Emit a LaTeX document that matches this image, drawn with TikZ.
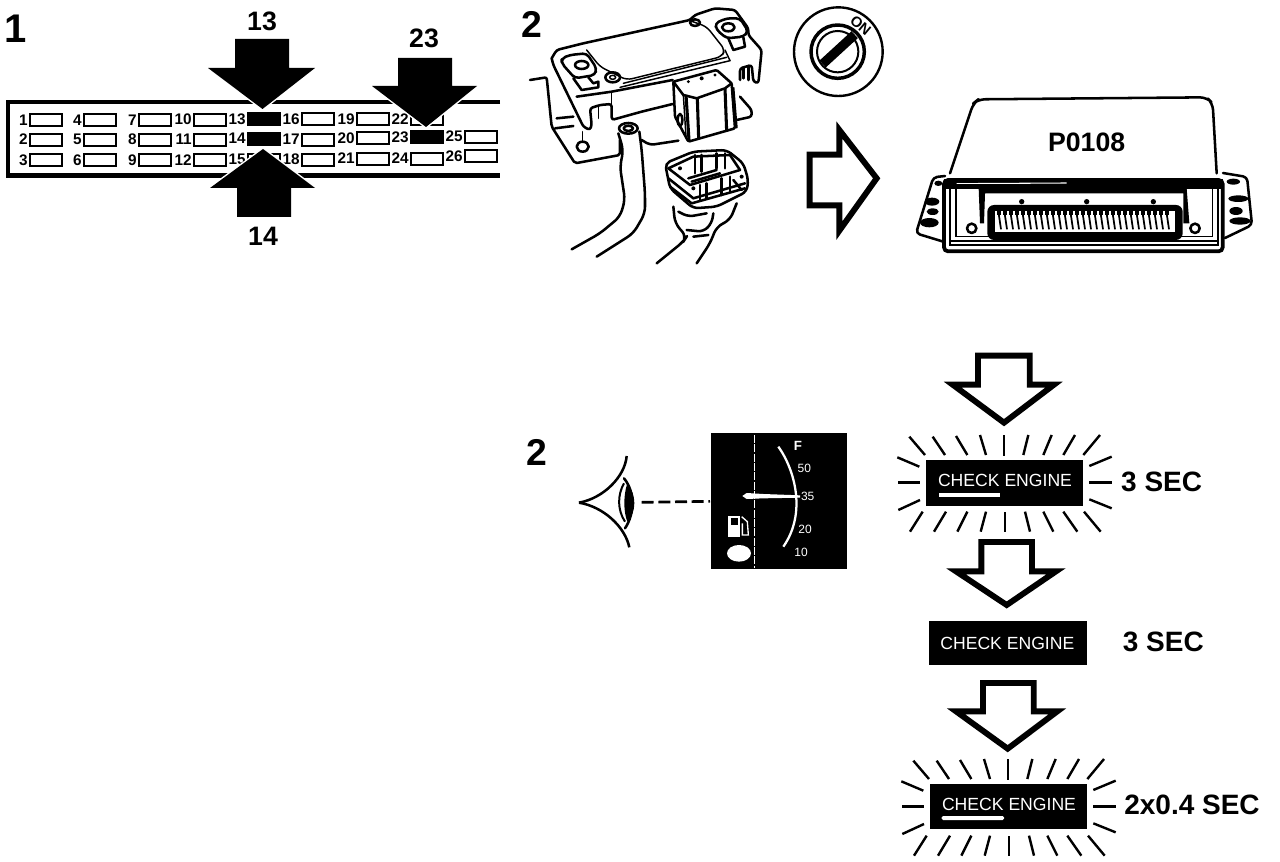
\documentclass[tikz,border=0pt]{standalone}
\usepackage{fontspec}
\setmainfont{Liberation Sans}
\tikzset{
  ln/.style={line width=1.9pt,line join=round,line cap=round},
  thn/.style={line width=1.1pt,line join=round,line cap=round},
  bigarrow/.style={fill=black,draw=white,line width=2.2pt,line join=miter},
  hollow/.style={draw=black,fill=white,line width=4.4pt,line join=miter},
  pinbox/.style={draw=black,line width=1.5pt,fill=white,minimum width=24pt,minimum height=9pt,inner sep=0pt,anchor=west},
  pinnum/.style={font=\fontsize{11.5}{12}\selectfont\bfseries,inner sep=0pt,anchor=east},
  biglabel/.style={font=\fontsize{20}{22}\selectfont\bfseries,inner sep=0pt},
  seclabel/.style={font=\fontsize{21}{23}\selectfont\bfseries,inner sep=0pt},
  panelnum/.style={font=\fontsize{30}{32}\selectfont\bfseries,inner sep=0pt},
  lamp/.style={fill=black,draw=none},
  lamptext/.style={text=white,font=\fontsize{13.2}{14}\selectfont,inner sep=0pt},
  ray/.style={line width=1.8pt,line cap=butt},
  gaugetext/.style={text=white,font=\fontsize{9}{10}\selectfont,inner sep=0pt},
}
\newcommand{\lamprays}{%
  \foreach \a/\b/\c/\d in {88/290/135/345,158/290/195/345,228/288/262/345,300/285/318/345,372/285/372/348,445/285/430/345,515/285/490/345,585/285/550/345,660/285/610/345,52/352/118/380,55/428/120/428,55/510/120/480,695/350/628/378,628/428/695/428,628/478/695/505,90/575/128/515,162/575/198/515,232/575/262/515,302/575/318/515,375/575/375/515,435/515/450/575,490/515/520/575,550/515/592/575,612/515/662/575}
    {\draw[ray] (\a,\b) -- (\c,\d);}%
}
\begin{document}
\begin{tikzpicture}[x=.75pt,y=-.75pt]
\useasboundingbox (0,0) rectangle (1280,862);
\fill[white] (0,0) rectangle (1280,862);

% ---------- Panel 1 ----------
\node[panelnum] (p1) at (16,29) {1};
\draw[line width=3.2pt,line join=miter] (500,102) -- (8,102) -- (8,175.5) -- (500,175.5);
\foreach \n/\x/\y in {1/29/120.5,2/29/140,3/29/160.5,4/83/120.5,5/83/140,6/83/160.5,7/138/120.5,8/138/140,9/138/160.5,10/193/120,11/193/140,12/193/160.5,16/301/119.5,17/301/140,18/301/160,19/356/119.5,20/356/138.5,21/356/159,22/410/119.5,24/410/159,25/464/137,26/464/156.5}{
  \node[pinbox] (b\n) at (\x,\y) {};
  \node[pinnum] (n\n) at (\x-1,\y-.5) {\n};
}
\foreach \n/\x/\y in {13/247/119.5,14/247/139,23/410/137.5}{
  \node[pinbox,fill=black] (b\n) at (\x,\y) {};
  \node[pinnum] (n\n) at (\x-1,\y-.5) {\n};
}
\node[pinbox] (b15) at (247,160) {};
\node[pinnum] (n15) at (246,159.5) {15};
\draw[bigarrow] (235,39) -- (289,39) -- (289,68) -- (315,68) -- (262.5,109) -- (208,68) -- (235,68) -- cycle;
\fill (235,39) -- (289,39) -- (289,68) -- (315,68) -- (262.5,109) -- (208,68) -- (235,68) -- cycle;
\draw[bigarrow] (398,58) -- (452,58) -- (452,86) -- (477,86) -- (426,127) -- (372,86) -- (398,86) -- cycle;
\fill (398,58) -- (452,58) -- (452,86) -- (477,86) -- (426,127) -- (372,86) -- (398,86) -- cycle;
\draw[bigarrow] (237,217) -- (291,217) -- (291,188) -- (315,188) -- (263,149) -- (210,188) -- (237,188) -- cycle;
\fill (237,217) -- (291,217) -- (291,188) -- (315,188) -- (263,149) -- (210,188) -- (237,188) -- cycle;
\node[biglabel] (l13) at (262,21) {13};
\node[biglabel] (l23) at (424,38) {23};
\node[biglabel] (l14) at (263,236) {14};

% ---------- Panel 2: sensor ----------
\node[panelnum,font=\fontsize{28}{30}\selectfont\bfseries] (p2) at (532,24) {2};
\begin{scope}[shift={(540,0)},x=.25pt,y=-.25pt]
  % flange
  \draw[ln,rounded corners=1.5pt] (-30,240) -- (20,232) -- (35,380) -- (105,490) -- (240,465) -- (240,420);
  \draw[ln] (50,355) -- (100,350) (45,385) -- (100,378);
  \draw[ln] (128,440) ellipse (18 and 15);
  \draw[thn] (128,395) -- (128,425);
  \draw[ln,rounded corners=2pt] (600,290) -- (635,330) -- (635,350) -- (590,360);
  % body
  \draw[ln,rounded corners=2pt] (35,175) -- (50,150) -- (130,130) -- (450,60) -- (465,45) -- (525,25) -- (585,30) -- (625,85) -- (625,105) -- (665,150) -- (655,250) -- (640,245) -- (635,195) -- (600,205) -- (600,240);
  \draw[ln,rounded corners=2pt] (35,175) -- (40,195) -- (130,380) -- (150,390) -- (155,375) -- (150,325) -- (180,315) -- (215,312) -- (215,360) -- (305,335) -- (398,312);
  \draw[ln] (110,290) -- (215,275) -- (398,240);
  \draw[thn] (175,318) -- (175,355) (215,280) -- (215,312);
  % window
  \draw[thn,rounded corners=4pt] (140,150) -- (180,200) -- (260,240) -- (545,170) -- (555,150) -- (500,80) -- (450,62);
  \draw[thn] (240,262) -- (570,182) (250,250) -- (560,172);
  \draw[thn] (555,150) -- (570,182);
  % left ear
  \draw[ln,rounded corners=3pt,fill=white] (65,175) -- (90,165) -- (140,160) -- (170,205) -- (165,225) -- (105,235) -- (65,190) -- cycle;
  \draw[ln] (125,195) ellipse (20 and 12);
  \draw[ln] (100,235) -- (125,270) -- (175,262) -- (175,245) -- (160,250) -- (145,232);
  \draw[ln] (218,232) ellipse (22 and 15);
  \draw[thn] (218,232) ellipse (9 and 6);
  % right ear
  \draw[ln] (465,68) ellipse (15 and 10);
  \draw[ln,rounded corners=3pt,fill=white] (525,70) -- (560,55) -- (600,55) -- (625,95) -- (610,110) -- (560,115) -- (530,90) -- cycle;
  \draw[ln] (565,82) ellipse (19 and 12);
  \draw[ln] (565,115) -- (580,150) -- (615,140) -- (610,112);
  \draw[ln] (610,205) -- (610,235) (625,198) -- (625,240);
  % connector
  \draw[ln,fill=white,rounded corners=1pt] (400,245) -- (530,210) -- (575,250) -- (585,385) -- (445,425) -- (405,350) -- cycle;
  \draw[ln] (400,245) -- (430,285) -- (470,295) -- (555,265) -- (575,250);
  \draw[line width=2.3pt] (438,285) -- (447,420) (472,295) -- (476,418) (555,265) -- (560,395);
  \draw[thn] (430,285) -- (438,410);
  \draw[line width=2.6pt] (578,262) -- (588,385);
  \draw[ln] (420,360) ellipse (7 and 18);
  \fill (445,245) circle (5) (485,235) circle (6) (525,225) circle (5);
\end{scope}
% pipe and plug
\begin{scope}[shift={(560,120)},x=.25pt,y=-.25pt]
  \draw[ln,fill=white] (205,25) ellipse (28 and 16);
  \draw[ln] (205,25) ellipse (14 and 8);
  \draw[ln,rounded corners=5pt] (175,40) -- (190,90) -- (180,140) -- (195,240) -- (180,290) -- (120,340) -- (35,388);
  \draw[ln,rounded corners=5pt] (238,35) -- (245,90) -- (255,220) -- (255,280) -- (220,340) -- (110,410);
  \draw[ln,rounded corners=3pt] (245,60) -- (270,75) -- (355,62);
  % plug
  \draw[ln,rounded corners=4pt,fill=white] (315,130) -- (400,95) -- (500,90) -- (550,130) -- (565,180) -- (560,215) -- (470,260) -- (400,265) -- (330,205) -- cycle;
  \draw[ln] (325,145) -- (390,195) -- (540,150) -- (510,105) -- (400,110) -- cycle;
  \draw[ln] (325,175) -- (400,235) -- (555,190);
  \draw[ln] (330,200) -- (395,250) -- (555,205);
  \draw[ln] (405,105) -- (405,160) (425,105) -- (425,155) (470,100) -- (470,145) (495,100) -- (495,145);
  \draw[ln] (385,175) -- (470,150) (395,185) -- (480,160);
  \draw[ln] (420,195) -- (420,240) (440,190) -- (440,235) (485,175) -- (485,225) (510,170) -- (510,215);
  \draw[ln] (520,180) -- (545,210);
  \fill (400,205) circle (6) (545,170) circle (6) (360,145) circle (6);
  % wires
  \draw[ln,rounded corners=5pt] (340,260) -- (345,310) -- (380,350) -- (370,365) -- (290,430);
  \draw[ln,rounded corners=4pt] (355,275) -- (385,290) -- (440,280);
  \draw[ln,rounded corners=4pt] (380,330) -- (430,335) -- (455,310) -- (460,280);
  \draw[ln,rounded corners=5pt] (530,250) -- (510,300) -- (470,320) -- (450,370) -- (410,430);
  \draw[ln] (400,350) -- (445,345);
\end{scope}

% key switch and arrow
\begin{scope}[shift={(510,0)},x=.25pt,y=-.25pt]
  \draw[line width=1.8pt] (985,155) circle (133);
  \draw[line width=2.6pt] (983,155) circle (80);
  \draw[line width=1.5pt] (983,155) circle (62);
  \draw[line width=7pt] (938,192) -- (1034,104);
  \node[font=\fontsize{11}{11}\selectfont\bfseries,rotate=-40,inner sep=0pt] (on) at (1052,77) {ON};
  \draw[hollow] (899,464) -- (988,464) -- (988,390) -- (1100,535) -- (988,692) -- (988,616) -- (899,616) -- cycle;
\end{scope}

% ---------- ECU ----------
\begin{scope}[shift={(900,90)},x=.25pt,y=-.25pt]
  \draw[ln,rounded corners=5pt] (150,250) -- (220,40) -- (235,28) -- (920,22) -- (938,40) -- (950,250);
  \node[font=\fontsize{20}{22}\selectfont\bfseries,inner sep=0pt] (code) at (560,158) {P0108};
  \draw[ln,rounded corners=3pt] (135,258) -- (100,262) -- (48,430) -- (130,455);
  \fill (96,335) ellipse (22 and 12) (98,365) ellipse (18 and 10) (88,398) ellipse (28 and 14) (115,280) ellipse (12 and 8);
  \draw[ln,rounded corners=3pt] (969,249) -- (1041,261) -- (1056,405) -- (975,444);
  \fill (1000,275) ellipse (20 and 9) (1015,326) ellipse (30 and 10) (1008,363) ellipse (20 and 12) (1020,393) ellipse (32 and 11);
  % frame
  \fill (132,266) rectangle (968,296);
  \draw[white,line width=.8pt] (170,281) -- (500,279);
  \draw[line width=2.8pt,rounded corners=3pt] (132,270) rectangle (968,484);
  \draw[line width=1.3pt] (150,286) rectangle (955,466);
  \draw[line width=1pt] (168,296) -- (168,440) -- (938,440) -- (938,296);
  \draw[line width=1.6pt] (150,452) -- (950,452);
  % inner blocks
  \fill (236,296) -- (860,296) -- (868,400) -- (850,400) -- (850,310) -- (255,310) -- (252,400) -- (240,400) -- cycle;
  \draw[ln] (215,415) circle (14) (885,415) circle (14);
  \fill[rounded corners=5pt] (262,345) rectangle (848,450);
  \fill[white] (285,362) rectangle (825,425);
  \foreach \x in {295,313,...,815}{
    \draw[line width=1.3pt] (\x,364) -- (\x+8,418);
    \fill (\x-4,364) rectangle (\x+8,376);
  }
  \fill (365,335) circle (8) (560,335) circle (8) (760,335) circle (8);
\end{scope}

% ---------- Eye and gauge ----------
\node[panelnum,font=\fontsize{28}{30}\selectfont\bfseries] (p3) at (537,452) {2};
\begin{scope}[shift={(510,420)},x=.25pt,y=-.25pt]
  \fill (602,40) rectangle (1010,448);
  \coordinate (gaugeedge) at (600,244);
  \coordinate (eyefront) at (395,247);
  \draw[line width=2pt,dash pattern=on 9pt off 3.5pt] (eyefront) -- (gaugeedge);
  \draw[white,line width=.7pt,dash pattern=on 6pt off 1pt] (733,45) -- (733,445);
  \draw[white,line width=1.7pt] (805,80) .. controls (855,150) and (890,280) .. (820,380);
  \fill[white] (697,228) -- (710,219) -- (760,222) -- (870,226) -- (870,233) -- (760,235) -- (710,237) -- cycle;
  \node[gaugetext,font=\fontsize{10}{10}\selectfont\bfseries] (gF) at (864,78) {F};
  \node[gaugetext] (g50) at (883,145) {50};
  \node[gaugetext] (g35) at (893,228) {35};
  \node[gaugetext] (g20) at (885,327) {20};
  \node[gaugetext] (g10) at (873,398) {10};
  \fill[white] (655,288) rectangle (690,350);
  \fill (662,294) rectangle (683,315);
  \draw[white,line width=1pt] (695,290) -- (712,305) -- (715,345) -- (697,345) -- (697,310);
  \fill[white] (687,400) ellipse (36 and 25);
  % eye
  \draw[ln,line cap=butt] (207,248) .. controls (280,235) and (345,170) .. (350,108);
  \draw[ln,line cap=butt] (207,248) .. controls (280,260) and (345,320) .. (358,382);
  \fill (352,190) .. controls (380,225) and (380,275) .. (352,305) .. controls (340,275) and (340,225) .. (352,190) -- cycle;
  \draw[ln] (342,175) .. controls (375,215) and (375,280) .. (345,325);
  \draw[line width=1.5pt] (342,190) .. controls (322,225) and (322,270) .. (345,305);
\end{scope}

% ---------- Lamps and arrows ----------
\begin{scope}[shift={(880,340)},x=.25pt,y=-.25pt]
  \draw[hollow] (294,47) -- (449,47) -- (449,134) -- (522,134) -- (372,248) -- (218,134) -- (294,134) -- cycle;
  \lamprays
  \fill[lamp] (138,360) rectangle (608,498);
  \node[lamptext] (ce1) at (375,420) {CHECK ENGINE};
  \fill[white] (178,460) rectangle (360,472);
  \node[seclabel] (s1) at (845,426) {3 SEC};
  \draw[hollow] (304,606) -- (456,606) -- (456,694) -- (528,694) -- (380,795) -- (228,694) -- (304,694) -- cycle;
\end{scope}
\begin{scope}[shift={(880,600)},x=.25pt,y=-.25pt]
  \fill[lamp] (147,62) rectangle (620,195);
  \node[lamptext] (ce2) at (382,130) {CHECK ENGINE};
  \node[seclabel] (s2) at (850,126) {3 SEC};
  \draw[hollow] (309,249) -- (461,249) -- (461,334) -- (532,334) -- (383,446) -- (228,334) -- (309,334) -- cycle;
  \node[seclabel] (s3) at (936,615) {2x0.4 SEC};
\end{scope}
\begin{scope}[shift={(884,664)},x=.25pt,y=-.25pt]
  \lamprays
  \fill[lamp] (138,360) rectangle (608,496);
  \node[lamptext] (ce3) at (375,420) {CHECK ENGINE};
  \fill[white,rounded corners=1pt] (173,456) rectangle (360,468);
\end{scope}
\end{tikzpicture}
\end{document}
